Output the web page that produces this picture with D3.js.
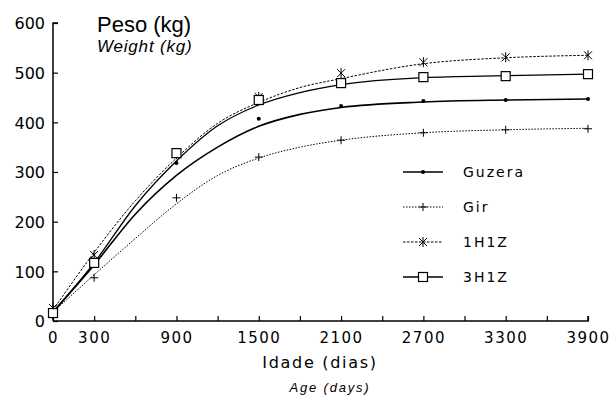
<!DOCTYPE html>
<html>
<head>
<meta charset="utf-8">
<script src="https://cdn.jsdelivr.net/npm/d3@7"></script>
<style>
  body { margin: 0; background: #fff; }
  svg { display: block; }
  text { fill: #000; }
</style>
</head>
<body>
<svg class="svg" width="613" height="396"></svg>
<script>
// valeurs
const ages = [0, 300, 900, 1500, 2100, 2700, 3300, 3900];
const guzera = [18, 113, 318, 407, 433, 443, 445, 447];
const gir = [20, 87, 248, 330, 364, 379, 385, 387];
const h1z1 = [26, 133, 336, 451, 499, 521, 531, 535];
const h1z3 = [16, 117, 338, 445, 479, 491, 493, 497];

// courbes ajustées
const fitAges = [0, 300, 600, 900, 1200, 1500, 1800, 2100, 2700, 3300, 3900];
const guzeraFit = [18, 113, 215, 293, 350, 392, 416, 430, 441, 445, 447];
const girFit = [18, 93, 166, 236, 293, 328, 350, 364, 379, 385, 388];
const h1z1Fit = [22, 138, 242, 328, 398, 440, 470, 488, 518, 530, 535];
const h1z3Fit = [18, 117, 232, 322, 393, 435, 460, 476, 490, 494, 497];

const seriesNames = ["Guzera", "Gir", "1H1Z", "3H1Z"];
const xTicks = d3.range(0, 3901, 300);
const xLabels = [0, 300, 900, 1500, 2100, 2700, 3300, 3900];
const yTicks = [0, 100, 200, 300, 400, 500, 600];

const series = [
  {name: "Guzera", pts: guzera, fit: guzeraFit, mark: "dot", width: 1.6, dash: null},
  {name: "Gir", pts: gir, fit: girFit, mark: "plus", width: 1, dash: "1.5,1.5"},
  {name: "1H1Z", pts: h1z1, fit: h1z1Fit, mark: "star", width: 1, dash: "2.5,1.5"},
  {name: "3H1Z", pts: h1z3, fit: h1z3Fit, mark: "square", width: 1.3, dash: null}
];

const svg = d3.select(".svg");

const x = d3.scaleLinear().domain([0, 3900]).range([53, 588]);
const y = d3.scaleLinear().domain([0, 600]).range([321, 23]);

// axe Y
const yAxis = svg.append("g")
  .attr("transform", "translate(53,0)")
  .call(d3.axisLeft(y).tickValues(yTicks).tickSize(-5).tickPadding(8))
yAxis.select(".domain").attr("d", "M5,23H0V321").attr("stroke-width", 1.5)
yAxis.selectAll("text").style("font-family", "DejaVu Sans").style("font-size", "16px").attr("dy", "0.36em")
yAxis.selectAll("line").attr("stroke-width", 1.2)

// axe X
const xAxis = svg.append("g")
  .attr("transform", "translate(0,321)")
  .call(d3.axisBottom(x).tickValues(xTicks).tickSize(-5)
    .tickFormat(d => xLabels.includes(d) ? d : ""))
xAxis.select(".domain").attr("d", "M53,0H588V-5").attr("stroke-width", 1.5)
xAxis.selectAll("line").attr("stroke-width", 1.2)
xAxis.selectAll("text")
  .attr("y", 22).attr("dy", null)
  .style("font-family", "DejaVu Sans").style("font-size", "15px").style("letter-spacing", "1.5px")

// courbes
const line = d3.line().curve(d3.curveMonotoneX);

series.forEach(s => {
  svg.append("path")
    .attr("d", line(fitAges.map((a, i) => [x(a), y(s.fit[i])])))
    .attr("fill", "none")
    .attr("stroke", "#000")
    .attr("stroke-width", s.width)
    .attr("stroke-dasharray", s.dash);
});

// marqueurs
function drawMark(g, kind) {
  if (kind === "dot") {
    g.append("circle").attr("r", 2).attr("fill", "#000");
  } else if (kind === "plus") {
    g.append("path").attr("d", "M-4,0H4M0,-4V4").attr("stroke", "#000").attr("stroke-width", 1).attr("fill", "none");
  } else if (kind === "star") {
    g.append("path").attr("d", "M-4,-4L4,4M-4,4L4,-4M0,-5V5").attr("stroke", "#000").attr("stroke-width", 1).attr("fill", "none");
  } else {
    g.append("rect").attr("x", -4.5).attr("y", -4.5).attr("width", 9).attr("height", 9)
      .attr("fill", "#fff").attr("stroke", "#000").attr("stroke-width", 1.2);
  }
}

series.forEach(s => {
  s.pts.forEach((v, i) => {
    const g = svg.append("g").attr("transform", `translate(${x(ages[i])},${y(v)})`);
    drawMark(g, s.mark);
  });
});

// légende
const legend = svg.append("g");
series.forEach((s, i) => {
  const ly = 172 + i * 35;
  legend.append("line")
    .attr("x1", 403).attr("x2", 443).attr("y1", ly).attr("y2", ly)
    .attr("stroke", "#000").attr("stroke-width", s.width).attr("stroke-dasharray", s.dash);
  drawMark(legend.append("g").attr("transform", `translate(423,${ly})`), s.mark);
  legend.append("text")
    .attr("x", 463).attr("y", ly + 5)
    .style("font-family", "DejaVu Sans").style("font-size", "14px").style("letter-spacing", "2px")
    .text(s.name);
});

// titres
svg.append("text").attr("x", 97).attr("y", 32)
  .style("font-family", "Liberation Sans").style("font-size", "22px")
  .text("Peso (kg)");
svg.append("text").attr("x", 97).attr("y", 52)
  .style("font-family", "Liberation Sans").style("font-size", "17px").style("font-style", "italic").style("letter-spacing", "0.8px")
  .text("Weight (kg)");
svg.append("text").attr("x", 320).attr("y", 368).attr("text-anchor", "middle")
  .style("font-family", "DejaVu Sans").style("font-size", "16px").style("letter-spacing", "1.7px")
  .text("Idade (dias)");
svg.append("text").attr("x", 330).attr("y", 392).attr("text-anchor", "middle")
  .style("font-family", "Liberation Sans").style("font-size", "13px").style("font-style", "italic").style("letter-spacing", "1.8px")
  .text("Age (days)");
</script>
</body>
</html>
